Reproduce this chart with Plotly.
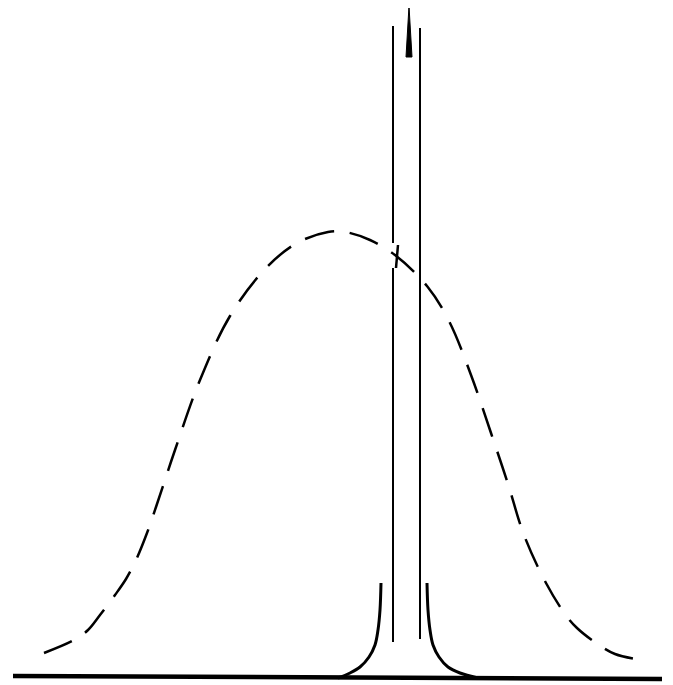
import plotly.graph_objects as go

W, H = 673, 685
PAD = 8  # default body margin of the page

# dashed bell curve (x, y measured from the top of the picture)
bell_x = [44, 74, 88, 100, 115, 126, 136, 147, 156, 175, 200, 230, 266, 297, 328, 345, 370, 395, 427, 449, 471, 491, 508, 524, 546, 565, 577, 599, 615, 636]
bell_y = [653, 640, 630, 615, 595, 579, 560, 533, 507, 450, 380, 316, 268, 243, 232, 232, 240, 255, 286, 321, 375, 433, 484, 535, 583, 614, 628, 645, 654, 659]

# narrow spike: two long verticals (left one broken where the dash crosses it)
spike_left_top_x = [393, 393]
spike_left_top_y = [26, 243]
spike_left_low_x = [393, 393]
spike_left_low_y = [268, 642]
spike_right_x = [420, 420]
spike_right_y = [28, 639]

# flared foot of the spike
foot_left_x = [381, 380, 378, 375, 369, 360, 350, 338]
foot_left_y = [583, 610, 630, 645, 657, 667, 673, 678]
foot_right_x = [427, 428, 430, 433, 439, 448, 460, 478]
foot_right_y = [583, 610, 630, 645, 657, 667, 673, 678]

# small wedge at the top
tip_x = [406, 409, 412, 406]
tip_y = [57, 6, 57, 57]

# tick where the dash meets the spike
tick_x = [398, 396]
tick_y = [245, 268]

# baseline
base_x = [13, 662]
base_y = [676, 679]


def flip(ys):
    return [H - y for y in ys]


fig = go.Figure()

fig.add_trace(go.Scatter(
    x=base_x, y=flip(base_y), mode="lines",
    line=dict(color="black", width=4.5),
))
fig.add_trace(go.Scatter(
    x=bell_x, y=flip(bell_y), mode="lines", line_shape="spline",
    line=dict(color="black", width=2.5, dash="30px,16px"),
))
for xs, ys in [(spike_left_top_x, spike_left_top_y),
               (spike_left_low_x, spike_left_low_y),
               (spike_right_x, spike_right_y)]:
    fig.add_trace(go.Scatter(
        x=xs, y=flip(ys), mode="lines",
        line=dict(color="black", width=2),
    ))
for xs, ys in [(foot_left_x, foot_left_y), (foot_right_x, foot_right_y)]:
    fig.add_trace(go.Scatter(
        x=xs, y=flip(ys), mode="lines", line_shape="spline",
        line=dict(color="black", width=3),
    ))
fig.add_trace(go.Scatter(
    x=tip_x, y=flip(tip_y), mode="lines", fill="toself",
    fillcolor="black", line=dict(color="black", width=1),
))
fig.add_trace(go.Scatter(
    x=tick_x, y=flip(tick_y), mode="lines",
    line=dict(color="black", width=2.5),
))

fig.update_layout(
    width=W - PAD, height=H - PAD,
    margin=dict(l=0, r=0, t=0, b=0),
    paper_bgcolor="white", plot_bgcolor="white",
    showlegend=False,
    xaxis=dict(range=[PAD, W], visible=False, fixedrange=True),
    yaxis=dict(range=[0, H - PAD], visible=False, fixedrange=True),
)

fig.write_html("out.html")
